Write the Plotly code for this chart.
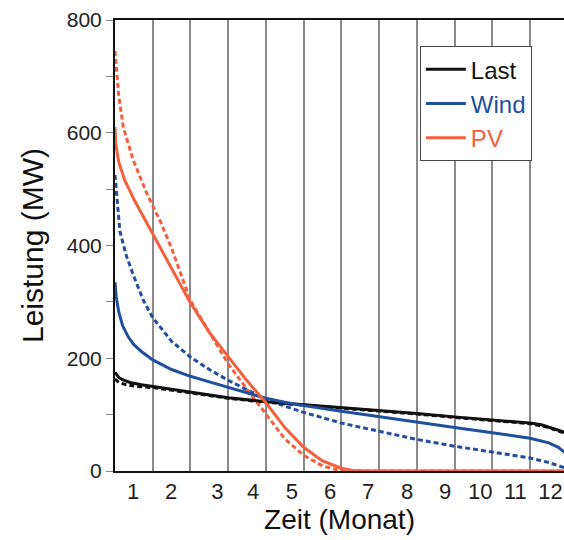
import plotly.graph_objects as go

# ---- data (months on x, MW on y) ----
month_labels = ["1", "2", "3", "4", "5", "6", "7", "8", "9", "10", "11", "12"]
month_label_pos = [0.48, 1.49, 2.71, 3.66, 4.69, 5.70, 6.71, 7.74, 8.75, 9.68, 10.61, 11.54]
month_bounds = [1, 2, 3, 4, 5, 6, 7, 8, 9, 10, 11, 12]

last_x = [0, 0.03, 0.1, 0.2, 0.4, 0.7, 1, 1.5, 2, 3, 4, 5, 6, 7, 8, 9, 10, 11, 11.3, 11.5, 11.7, 11.9, 12]
last_y = [175, 172, 166, 162, 157, 153, 150, 144, 139, 130, 123, 118, 113, 108, 102, 96, 91, 85, 82, 78, 74, 69, 66]

last2_x = [0, 0.1, 0.3, 0.6, 1, 1.5, 2, 3, 4, 5, 6, 7, 8, 9, 10, 11, 11.5, 11.9, 12]
last2_y = [163, 157, 153, 150, 148, 143, 138, 129, 122, 117, 112, 107, 101, 95, 90, 84, 77, 68, 65]

wind_x = [0, 0.03, 0.1, 0.2, 0.35, 0.5, 0.7, 1, 1.5, 2, 2.5, 3, 3.5, 4, 4.5, 5, 6, 7, 8, 9, 10, 10.5, 11, 11.5, 11.75, 11.9, 12]
wind_y = [335, 310, 282, 258, 238, 224, 212, 197, 180, 168, 158, 148, 138, 129, 122, 116, 106, 96, 86, 77, 68, 63, 58, 50, 42, 34, 28]

wind2_x = [0, 0.05, 0.13, 0.3, 0.5, 0.75, 1, 1.5, 2, 2.5, 3, 3.5, 4, 4.5, 5, 6, 7, 8, 9, 10, 11, 11.5, 11.9, 12]
wind2_y = [525, 480, 425, 382, 345, 303, 272, 230, 202, 180, 161, 144, 128, 115, 104, 85, 70, 56, 44, 34, 23, 15, 7, 4]

pv_x = [0, 0.02, 0.1, 0.25, 0.5, 1, 1.5, 2, 2.5, 3, 3.5, 4, 4.5, 5, 5.5, 6, 6.3, 6.7, 12]
pv_y = [610, 580, 548, 517, 482, 420, 360, 298, 246, 203, 160, 121, 77, 42, 18, 5, 1, 0, 0]

pv2_x = [0, 0.05, 0.1, 0.22, 0.48, 0.84, 1.2, 1.5, 2, 2.5, 3, 3.5, 4, 4.5, 5, 5.5, 6, 12]
pv2_y = [745, 710, 665, 610, 552, 493, 443, 395, 302, 246, 190, 145, 100, 57, 28, 9, 0, 0]

C_LAST = "#111111"
C_WIND = "#1f4f9e"
C_PV = "#f2603c"

fig = go.Figure()

# dashed variants (behind)
for xs, ys, c in [(last2_x, last2_y, C_LAST), (wind2_x, wind2_y, C_WIND), (pv2_x, pv2_y, C_PV)]:
    fig.add_trace(go.Scatter(x=xs, y=ys, mode="lines", showlegend=False, hoverinfo="skip",
                             line=dict(color=c, width=3, dash="5px,3px")))

# solid curves
for xs, ys, c, nm in [(last_x, last_y, C_LAST, "Last"), (wind_x, wind_y, C_WIND, "Wind"), (pv_x, pv_y, C_PV, "PV")]:
    fig.add_trace(go.Scatter(x=xs, y=ys, mode="lines",
                             name=f'<span style="color:{c}">{nm}</span>',
                             line=dict(color=c, width=3)))

fig.update_layout(
    width=564, height=540,
    margin=dict(l=115, r=0, t=20, b=69),
    paper_bgcolor="white", plot_bgcolor="white",
    font=dict(family="Liberation Sans, Arial, sans-serif", color="#222222"),
    legend=dict(x=0.679, y=0.942, xanchor="left", yanchor="top",
                bgcolor="white", bordercolor="#444444", borderwidth=1,
                font=dict(size=24), tracegroupgap=0, itemwidth=40),
    showlegend=True,
)

fig.update_xaxes(
    range=[0, 11.9], showline=True, linecolor="#111111", linewidth=2, mirror=True,
    showgrid=False, zeroline=False, ticks="",
    tickmode="array", tickvals=month_label_pos, ticktext=month_labels,
    tickfont=dict(size=22, color="#222222"),
    minor=dict(tickmode="array", tickvals=month_bounds, showgrid=True,
               gridcolor="#8a8a8a", gridwidth=1.5, ticks=""),
    title=dict(text="Zeit (Monat)", font=dict(size=28, color="#111111"), standoff=6),
    automargin=False,
)

fig.update_yaxes(
    range=[0, 800], showline=True, linecolor="#111111", linewidth=2, mirror=False,
    showgrid=False, zeroline=False,
    tickmode="array", tickvals=[0, 200, 400, 600, 800],
    ticks="outside", ticklen=7, tickcolor="#888888", tickwidth=1,
    tickfont=dict(size=21, color="#222222"),
    minor=dict(tickmode="array", tickvals=[100, 300, 500, 700], ticks="outside",
               ticklen=7, tickcolor="#888888", showgrid=False),
    title=dict(text="Leistung (MW)", font=dict(size=30, color="#111111"), standoff=14),
    automargin=False,
)

fig.write_html("out.html")
